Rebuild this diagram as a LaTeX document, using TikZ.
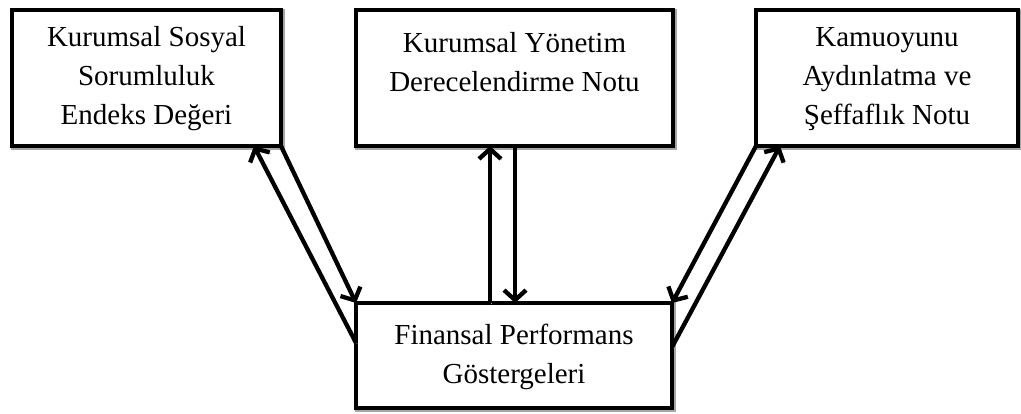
\documentclass[tikz,border=0pt]{standalone}
\usepackage{fontspec}
\setmainfont{Liberation Serif}
\usetikzlibrary{arrows.meta,calc}
\begin{document}
\begin{tikzpicture}[x=1pt,y=-1pt,
  shade/.style={preaction={draw=black!35, transform canvas={shift={(1.3pt,-1.3pt)}}}},
  box/.style={draw, line width=4.5pt, inner sep=0pt, outer sep=0pt, fill=white, shade},
  txt/.style={align=center, inner sep=0pt, font=\fontsize{29}{39}\selectfont},
  link/.style={line width=4.3pt, shade, -{Straight Barb[length=10pt,width=22pt]}}]
\useasboundingbox (0,0) rectangle (1021,414);

% boxes
\node[box, minimum width=269, minimum height=136] (lft) at (146.5,78) {};
\node[box, minimum width=317, minimum height=136] (mid) at (514.5,78) {};
\node[box, minimum width=262, minimum height=136] (rgt) at (887,78) {};
\node[box, minimum width=316, minimum height=105] (bot) at (514,355.5) {};

% labels (yshift is in page direction: negative moves down)
\node[txt] (lftT) at ([yshift=-1]lft.center) {Kurumsal Sosyal\\Sorumluluk\\Endeks Değeri};
\node[txt, anchor=north] (midT) at ([yshift=-22.5]mid.north) {Kurumsal Yönetim\\Derecelendirme Notu};
\node[txt] (rgtT) at ([yshift=-1]rgt.center) {Kamuoyunu\\Aydınlatma ve\\Şeffaflık Notu};
\node[txt] (botT) at ([yshift=-1]bot.center) {Finansal Performans\\Göstergeleri};

% connectors, one pair per upper box
\coordinate (a1) at ($(bot.north west)!0.38!(bot.south west)$);
\coordinate (a2) at ([xshift=-27]lft.south east);
\draw[link] (a1) -- (a2);
\draw[link] (lft.south east) -- (bot.north west);

\coordinate (b1) at ([xshift=-24]bot.north);
\coordinate (b2) at ([xshift=-24.5]mid.south);
\draw[link] (b1) -- (b2);
\coordinate (c1) at ([xshift=0.5]mid.south);
\coordinate (c2) at ([xshift=1]bot.north);
\draw[link] (c1) -- (c2);

\draw[link] (rgt.south west) -- (bot.north east);
\coordinate (d1) at ($(bot.north east)!0.42!(bot.south east)$);
\coordinate (d2) at ([xshift=24]rgt.south west);
\draw[link] (d1) -- (d2);
\end{tikzpicture}
\end{document}
